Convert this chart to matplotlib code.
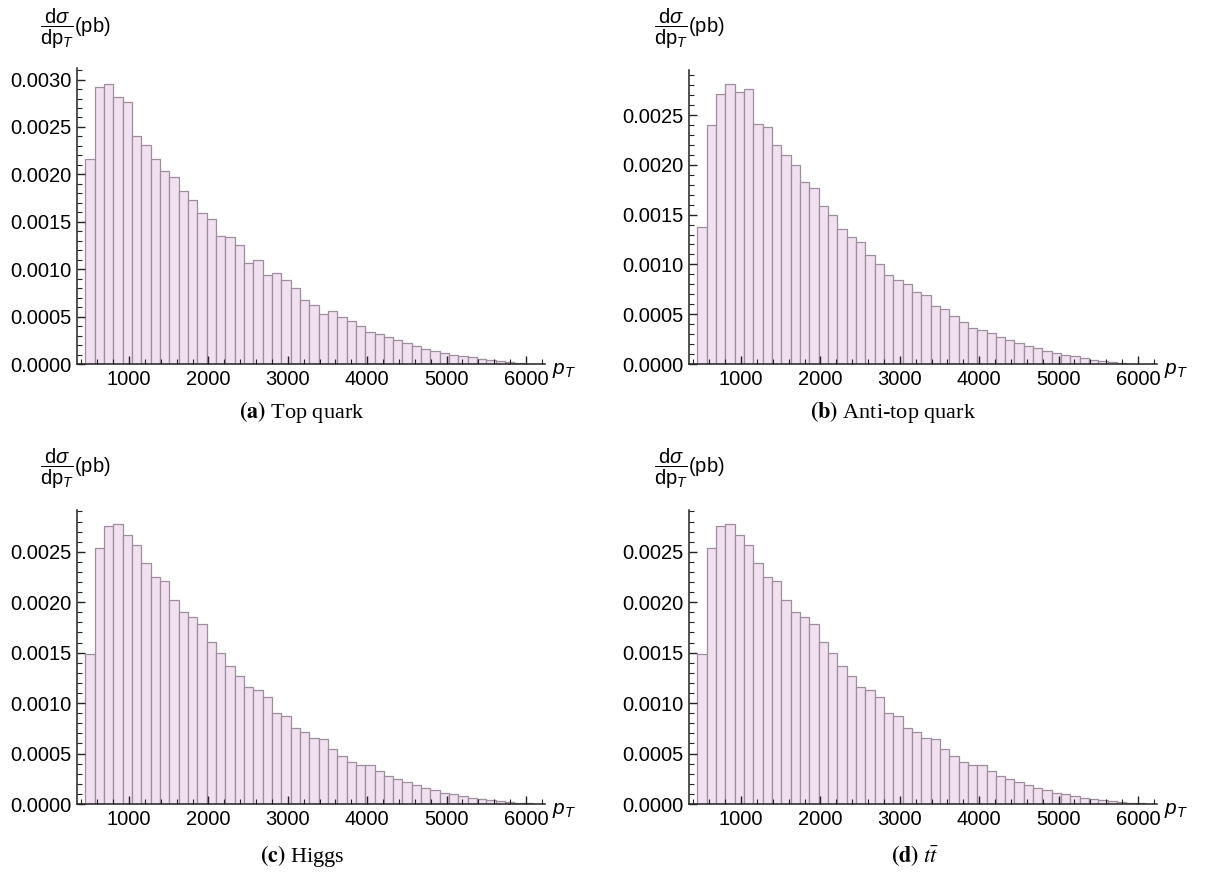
import matplotlib
matplotlib.use("Agg")
import matplotlib.pyplot as plt
import numpy as np
from matplotlib.ticker import MultipleLocator, FixedLocator

plt.rcParams.update({
    "font.family": "Liberation Sans",
    "mathtext.fontset": "custom",
    "mathtext.rm": "Liberation Sans",
    "mathtext.it": "Liberation Sans:italic",
    "mathtext.bf": "Liberation Sans:bold",
})

W, H = 1225, 881

# histogram binning in p_T
BIN_START = 450.0
BIN_WIDTH = 117.5

top_quark = [0.00216, 0.00292, 0.00295, 0.00282, 0.00276, 0.00240, 0.00231, 0.00216,
             0.00204, 0.00197, 0.00182, 0.00173, 0.00159, 0.00153, 0.00135, 0.00134,
             0.00126, 0.00107, 0.00110, 0.00094, 0.00096, 0.00089, 0.00080, 0.00067,
             0.00062, 0.00053, 0.00056, 0.00050, 0.00045, 0.00040, 0.00034, 0.00032,
             0.00028, 0.00025, 0.00022, 0.00019, 0.00016, 0.00014, 0.00012, 0.00010,
             0.00008, 0.00007, 0.00005, 0.00004, 0.00003, 0.00002, 0.00001, 0.000005]
anti_top = [0.00138, 0.00240, 0.00271, 0.00281, 0.00273, 0.00276, 0.00241, 0.00238,
            0.00220, 0.00210, 0.00200, 0.00183, 0.00177, 0.00159, 0.00150, 0.00136,
            0.00128, 0.00122, 0.00109, 0.00100, 0.00089, 0.00084, 0.00080, 0.00072,
            0.00069, 0.00058, 0.00055, 0.00048, 0.00042, 0.00036, 0.00034, 0.00031,
            0.00027, 0.00024, 0.00021, 0.00018, 0.00016, 0.00013, 0.00011, 0.00009,
            0.00008, 0.00006, 0.00004, 0.00003, 0.00002, 0.00001, 0.000005]
higgs = [0.00149, 0.00254, 0.00276, 0.00278, 0.00267, 0.00257, 0.00239, 0.00225,
         0.00221, 0.00202, 0.00190, 0.00185, 0.00178, 0.00161, 0.00150, 0.00137,
         0.00127, 0.00116, 0.00113, 0.00106, 0.00090, 0.00087, 0.00075, 0.00071,
         0.00065, 0.00064, 0.00055, 0.00048, 0.00042, 0.00039, 0.00039, 0.00033,
         0.00028, 0.00025, 0.00022, 0.00019, 0.00016, 0.00014, 0.00011, 0.00010,
         0.00008, 0.00006, 0.00005, 0.00004, 0.00003, 0.00002, 0.00001, 0.000005]
ttbar = list(higgs)

x_ticks = [1000, 2000, 3000, 4000, 5000, 6000]

FILL = "#F0E0F0"
EDGE = "#9D8D9D"

fig = plt.figure(figsize=(W / 100, H / 100), dpi=100)


def add_panel(left, right, bottom, top, xlim, ylim):
    ax = fig.add_axes([left / W, 1 - bottom / H, (right - left) / W, (bottom - top) / H])
    ax.set_xlim(*xlim)
    ax.set_ylim(*ylim)
    return ax


def draw_hist(ax, values, yticks, caption, cap_x, cap_y, lab_x, lab_y, pt_x, pt_y):
    n = len(values)
    edges = BIN_START + BIN_WIDTH * np.arange(n + 1)
    ax.bar(edges[:-1], values, width=BIN_WIDTH, align="edge", color=FILL,
           edgecolor=EDGE, linewidth=0.9)
    for s in ("top", "right"):
        ax.spines[s].set_visible(False)
    for s in ("left", "bottom"):
        ax.spines[s].set_linewidth(1.1)
        ax.spines[s].set_color("#222222")
    ax.xaxis.set_major_locator(FixedLocator(x_ticks))
    ax.xaxis.set_minor_locator(MultipleLocator(200))
    ax.yaxis.set_major_locator(FixedLocator(yticks))
    ax.yaxis.set_minor_locator(MultipleLocator(0.0001))
    ax.set_yticklabels([f"{v:.4f}" for v in yticks])
    ax.tick_params(which="both", direction="in", colors="#222222", labelsize=14.5,
                   labelcolor="black")
    ax.tick_params(which="major", length=6, width=1.0, pad=4)
    ax.tick_params(which="minor", length=3.5, width=0.8)
    fig.text(lab_x / W, 1 - lab_y / H,
             r"$\dfrac{\mathrm{d}\sigma}{\mathrm{dp}_{T}}$(pb)",
             fontsize=14.5, ha="left", va="center")
    fig.text(pt_x / W, 1 - pt_y / H, r"$p_{T}$", fontsize=15, ha="left", va="center")
    fig.text(cap_x / W, 1 - cap_y / H, caption, fontsize=16, ha="center",
             va="center", family="Liberation Serif", math_fontfamily="stix")


xlim = (345, 6240)
ax_a = add_panel(77, 545, 364, 68, xlim, (0, 0.003122))
draw_hist(ax_a, top_quark, [0, 0.0005, 0.001, 0.0015, 0.002, 0.0025, 0.003],
          r"$\mathbf{(a)}$ Top quark", 302, 412, 40, 29, 552, 370)

ax_b = add_panel(689, 1157, 364, 70, xlim, (0, 0.002952))
draw_hist(ax_b, anti_top, [0, 0.0005, 0.001, 0.0015, 0.002, 0.0025],
          r"$\mathbf{(b)}$ Anti-top quark", 893, 412, 654, 29, 1164, 370)

ax_c = add_panel(77, 545, 804, 510, xlim, (0, 0.002914))
draw_hist(ax_c, higgs, [0, 0.0005, 0.001, 0.0015, 0.002, 0.0025],
          r"$\mathbf{(c)}$ Higgs", 302, 856, 40, 469, 552, 810)

ax_d = add_panel(689, 1157, 804, 510, xlim, (0, 0.002914))
draw_hist(ax_d, ttbar, [0, 0.0005, 0.001, 0.0015, 0.002, 0.0025],
          r"$\mathbf{(d)}$ $t\bar{t}$", 915, 856, 654, 469, 1164, 810)

fig.savefig("out.png", dpi=100, facecolor="white")
